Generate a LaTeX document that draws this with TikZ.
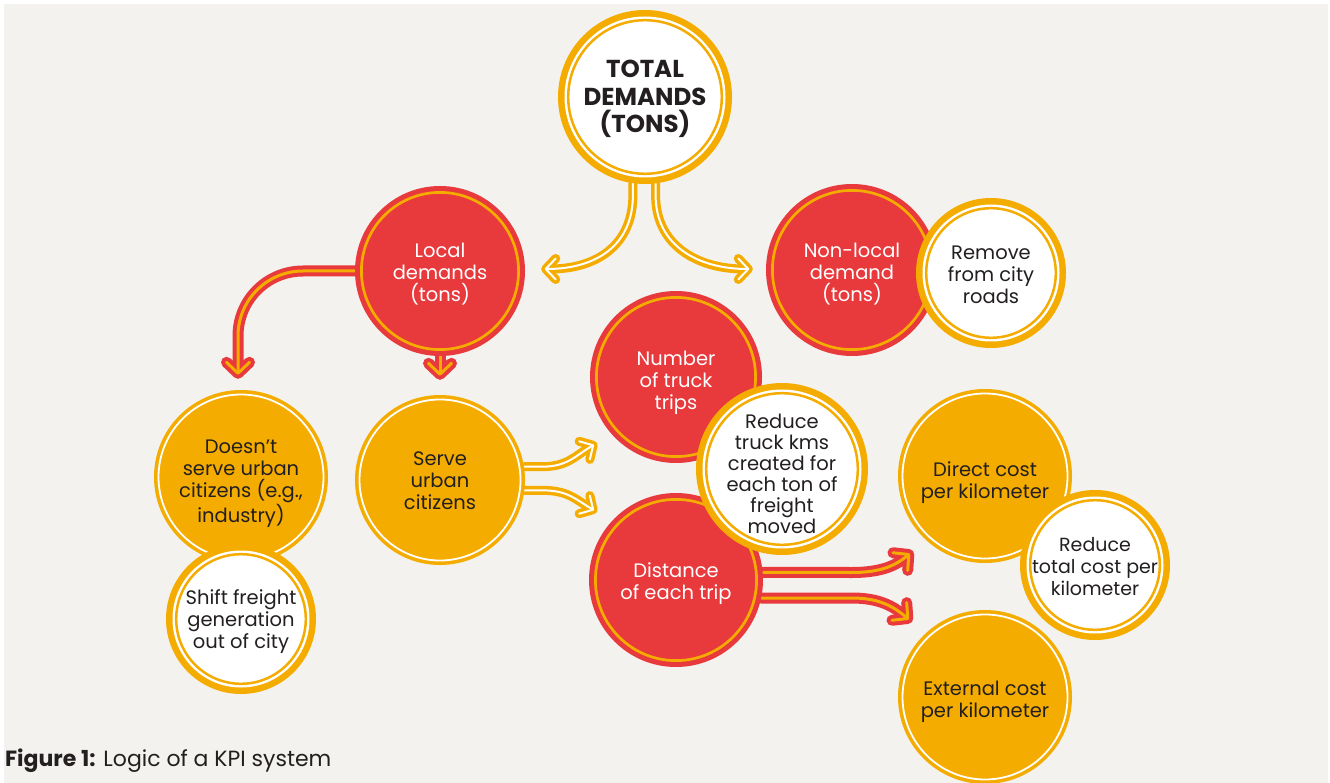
\documentclass[tikz,border=0pt]{standalone}
\usepackage{fontspec}
\setmainfont{Poppins}
\usetikzlibrary{arrows.meta,calc}
\definecolor{ko}{HTML}{F5AC00}
\definecolor{kr}{HTML}{E8393C}
\definecolor{kbg}{HTML}{F3F2EE}
\definecolor{ktx}{HTML}{231F20}
\pgfdeclarelayer{bg}
\pgfsetlayers{bg,main}
\tikzset{
  kc/.style={circle, inner sep=0pt},
  kn/.style={inner sep=0pt, align=center, text=ktx,
    font=\fontsize{19.5}{22}\selectfont},
  redtxt/.style={text=white},
  titletxt/.style={font=\fontsize{24.5}{27.5}\selectfont\bfseries},
  tighttxt/.style={font=\fontsize{19.5}{21}\selectfont},
  smalltxt/.style={font=\fontsize{19}{22}\selectfont},
  obase/.style={draw=ko, line width=9pt, line cap=round, line join=round,
    -{Straight Barb[length=10pt,width=21pt,round]}},
  otop/.style={draw=white, line width=2pt, line cap=round, line join=round,
    shorten >=3.5pt, -{Straight Barb[length=10pt,width=21pt,round]}},
  rbase/.style={draw=kr, line width=11pt, line cap=round, line join=round,
    -{Straight Barb[length=11pt,width=23pt,round]}},
  rtop/.style={draw=ko, line width=3pt, line cap=round, line join=round,
    shorten >=4pt, -{Straight Barb[length=11pt,width=23pt,round]}},
}
% #1 name, #2 x, #3 y, #4 radius, #5 text style, #6 text shift, #7 text
\newcommand{\kwhite}[7]{%
  \fill[ko] (#2,#3) circle[radius=#4pt];
  \fill[white] (#2,#3) circle[radius=#4pt-6.5pt];
  \draw[ko,line width=2.5pt] (#2,#3) circle[radius=#4pt-10.2pt];
  \node[kc,minimum size=2*#4pt] (#1) at (#2,#3) {};
  \node[kn,#5] (#1-t) at ($(#1.center)+(0,#6)$) {#7};}
\newcommand{\korange}[7]{%
  \fill[ko] (#2,#3) circle[radius=#4pt];
  \draw[white,line width=1.8pt] (#2,#3) circle[radius=#4pt-4.5pt];
  \node[kc,minimum size=2*#4pt] (#1) at (#2,#3) {};
  \node[kn,#5] (#1-t) at ($(#1.center)+(0,#6)$) {#7};}
\newcommand{\kred}[7]{%
  \fill[kr] (#2,#3) circle[radius=#4pt];
  \draw[ko,line width=2.7pt] (#2,#3) circle[radius=#4pt-6.4pt];
  \node[kc,minimum size=2*#4pt] (#1) at (#2,#3) {};
  \node[kn,redtxt,#5] (#1-t) at ($(#1.center)+(0,#6)$) {#7};}
\newcommand{\darr}[3]{\draw[#1] #3; \draw[#2] #3;}
\begin{document}
\begin{tikzpicture}[x=1pt,y=-1pt]
\useasboundingbox (0,0) rectangle (1330,783);
\begin{pgfonlayer}{bg}
  \fill[white] (0,0) rectangle (1330,783);
  \fill[kbg] (4,4) rectangle (1328,783);
\end{pgfonlayer}
% nodes
\kwhite{tot}{645}{97}{87}{titletxt}{2}{TOTAL\\DEMANDS\\(TONS)}
\kred{loc}{440}{271}{85}{}{3.5}{Local\\demands\\(tons)}
\kred{nonl}{852}{270}{86}{}{4}{Non-local\\demand\\(tons)}
\kwhite{rem}{991}{273}{75}{}{1.5}{Remove\\from city\\roads}
\kred{ntt}{676}{377}{86}{}{6}{Number\\of truck\\trips}
\kred{dist}{676}{580}{87}{}{3.5}{Distance\\of each trip}
\kwhite{rtk}{782}{469}{86}{tighttxt}{5}{Reduce\\truck kms\\created for\\each ton of\\freight\\moved}
\korange{serve}{440}{480}{85}{}{1}{Serve\\urban\\citizens}
\korange{dns}{241}{477}{87}{}{6.5}{Doesn’t\\serve urban\\citizens (e.g.,\\industry)}
\kwhite{shift}{241}{619}{75}{}{2.5}{Shift freight\\generation\\out of city}
\korange{dc}{985}{476}{87}{}{6.5}{Direct cost\\per kilometer}
\kwhite{rtc}{1095}{565}{75}{smalltxt}{2}{Reduce\\total cost per\\kilometer}
\korange{ext}{985}{697}{87}{}{5}{External cost\\per kilometer}
\node[anchor=west, inner sep=0pt, text=ktx, font=\fontsize{22}{24}\selectfont] (cap) at (5,761)
  {\textbf{Figure 1:} Logic of a KPI system};
% connectors
\begin{pgfonlayer}{bg}
\darr{obase}{otop}{(tot.262) -- ++(0,12) .. controls +(0,50) and +(55,0) .. ($(loc.east)+(16,-2)$)}
\darr{obase}{otop}{(tot.277.5) -- ++(0,12) .. controls +(0,50) and +(-55,0) .. ($(nonl.west)+(-13,-1)$)}
\darr{rbase}{rtop}{(loc.west) -- (303,271) .. controls (267,271) and (238,300) .. (238,336) -- ($(dns.north)+(-3,-11)$)}
\darr{rbase}{rtop}{(loc.south) -- ($(serve.north)+(0,-15)$)}
\darr{obase}{otop}{(serve.9) -- ++(18,0) .. controls +(25,0) and +(-22,13) .. ($(ntt.center)+(-79,66)$)}
\darr{obase}{otop}{(serve.-7) -- ++(18,0) .. controls +(25,0) and +(-22,-13) .. ($(dist.center)+(-79,-68)$)}
\darr{rbase}{rtop}{(dist.5) -- (852,572.5) .. controls (880,572.5) and ($(dc.center)+(-90,90)$) .. ($(dc.center)+(-72,75)$)}
\darr{rbase}{rtop}{(dist.-12) -- (852,598) .. controls (880,598) and ($(ext.center)+(-91,-90)$) .. ($(ext.center)+(-73,-75)$)}
\end{pgfonlayer}
\end{tikzpicture}
\end{document}
